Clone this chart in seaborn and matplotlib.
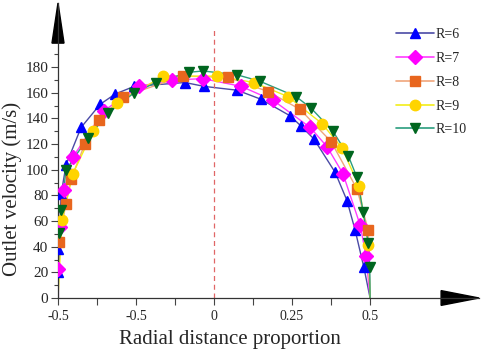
import numpy as np
import pandas as pd
import matplotlib
matplotlib.use('Agg')
import matplotlib.pyplot as plt
import seaborn as sns
from matplotlib.lines import Line2D
from matplotlib.ticker import FixedLocator

# radial position (fraction of radius) and outlet velocity (m/s)
x_r6 = [-0.5, -0.5, -0.5, -0.49, -0.474, -0.426, -0.365, -0.317, -0.256, -0.093, -0.032,
        0.074, 0.15, 0.244, 0.279, 0.32, 0.388, 0.426, 0.452, 0.48, 0.5]
v_r6 = [0, 20, 38, 81, 104, 133, 151, 159, 165, 168, 165,
        162, 155, 142, 134, 124, 98, 76, 53, 24, 0]

x_r7 = [-0.5, -0.5, -0.494, -0.481, -0.452, -0.353, -0.24, -0.135, -0.035, 0.087, 0.19,
        0.308, 0.362, 0.413, 0.468, 0.487, 0.5]
v_r7 = [0, 23, 55, 84, 110, 146, 165, 170, 171, 165, 154,
        133, 118, 97, 57, 33, 0]

x_r8 = [-0.5, -0.497, -0.475, -0.458, -0.414, -0.369, -0.292, -0.1, 0.045, 0.173, 0.276,
        0.375, 0.458, 0.494, 0.5]
v_r8 = [0, 44, 73, 93, 120, 139, 157, 173, 172, 161, 147,
        122, 85, 53, 0]

x_r9 = [-0.5, -0.487, -0.452, -0.388, -0.311, -0.163, 0.01, 0.128, 0.237, 0.346, 0.41,
        0.465, 0.494, 0.5]
v_r9 = [0, 61, 97, 130, 152, 173, 173, 168, 157, 136, 117,
        87, 41, 0]

x_r10 = [-0.5, -0.497, -0.49, -0.474, -0.404, -0.34, -0.256, -0.186, -0.08, -0.035, 0.074,
         0.147, 0.263, 0.311, 0.381, 0.43, 0.458, 0.478, 0.494, 0.499, 0.5]
v_r10 = [0, 51, 69, 100, 125, 144, 160, 168, 176, 177, 174,
         169, 157, 148, 130, 111, 94, 67, 43, 24, 0]

labels = ['R=6', 'R=7', 'R=8', 'R=9', 'R=10']
xs = [x_r6, x_r7, x_r8, x_r9, x_r10]
vs = [v_r6, v_r7, v_r8, v_r9, v_r10]

x_ticks = [-0.5, -0.25, 0, 0.25, 0.5]
x_ticklabels = ['-0.5', '-0.5', '0', '0.25', '0.5']
y_ticks = [0, 20, 40, 60, 80, 100, 120, 140, 160, 180]

line_colors = ['#4a4aa6', '#ff3cff', '#f0a57c', '#f2ee1a', '#2a9d7e']
marker_colors = ['#0000ff', '#ff00ff', '#e8661e', '#ffd400', '#00661f']
markers = ['^', 'D', 's', 'o', 'v']
msizes = [7, 7, 6.5, 7.5, 7]

sns.set_style('ticks')
plt.rcParams['font.family'] = ['Liberation Serif', 'DejaVu Serif']

fig = plt.figure(figsize=(4.84, 3.58), dpi=100)
ax = fig.add_axes([58 / 484, 60 / 358, 421 / 484, 295 / 358])

for i in range(5):
    df = pd.DataFrame({'x': xs[i], 'v': vs[i]})
    sns.lineplot(data=df, x='x', y='v', sort=False, color=line_colors[i], lw=1.0, ax=ax)
    inner = df.iloc[1:-1]
    ax.plot(inner['x'], inner['v'], ls='none', marker=markers[i], ms=msizes[i],
            mfc=marker_colors[i], mec=marker_colors[i], zorder=3)

ax.axvline(0, ymin=0, ymax=209 / 230, color='#e06666', lw=0.9, ls=(0, (4, 3)))

ax.set_xlim(-0.5, 0.849)
ax.set_ylim(0, 230)
ax.xaxis.set_major_locator(FixedLocator(x_ticks))
ax.set_xticklabels(x_ticklabels)
ax.xaxis.set_minor_locator(FixedLocator([-0.375, -0.125, 0.125, 0.375]))
ax.yaxis.set_major_locator(FixedLocator(y_ticks))
ax.yaxis.set_minor_locator(FixedLocator(list(range(10, 200, 20))))
ax.tick_params(axis='x', which='both', length=5, width=0.8, color='#444444', labelsize=10, pad=4)
ax.tick_params(axis='y', which='major', length=5, width=0.8, color='#444444', labelsize=11, pad=2)
ax.tick_params(axis='y', which='minor', length=3, width=0.8, color='#444444')

sns.despine(ax=ax)
for s in ['left', 'bottom']:
    ax.spines[s].set_color('#333333')
    ax.spines[s].set_linewidth(0.9)

# arrow heads at the axis ends
ax.fill([-0.0143, 0.0143, 0], [0.864, 0.864, 1.0], color='black', transform=ax.transAxes, clip_on=False)
ax.fill([0.91, 0.91, 1.0], [-0.025, 0.025, 0], color='black', transform=ax.transAxes, clip_on=False)

ax.set_xlabel('Radial distance proportion', fontsize=15)
ax.set_ylabel('Outlet velocity (m/s)', fontsize=15)
ax.xaxis.set_label_coords(0.408, -0.11)
ax.yaxis.set_label_coords(-0.085, 0.37)

handles = [Line2D([], [], color=line_colors[i], lw=1.2, marker=markers[i], ms=msizes[i],
                  mfc=marker_colors[i], mec=marker_colors[i]) for i in range(5)]
ax.legend(handles, labels, loc='upper left', bbox_to_anchor=(396 / 484, 1 - 28 / 358),
          bbox_transform=fig.transFigure, frameon=False, fontsize=10, handlelength=2.7,
          handletextpad=0.15, labelspacing=0.78, borderpad=0, borderaxespad=0)

fig.savefig('out.png', dpi=100)
